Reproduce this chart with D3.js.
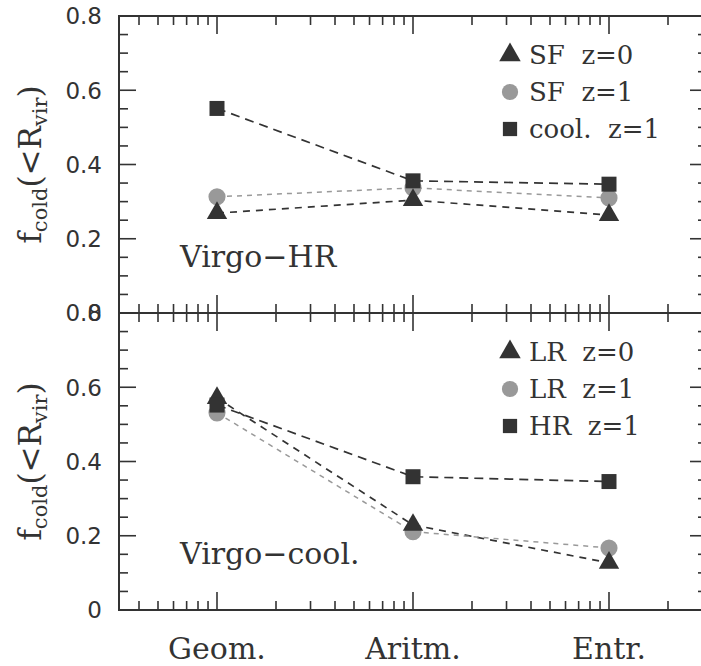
<!DOCTYPE html>
<html>
<head>
<meta charset="utf-8">
<script src="https://cdn.jsdelivr.net/npm/d3@7"></script>
<style>
  body { margin: 0; background: #fff; }
  svg { display: block; }
  text { white-space: pre; }
</style>
</head>
<body>
<div class="chartDiv"></div>
<script>
// categories sit on a log axis at 1, 10, 100
var categories = ["Geom.", "Aritm.", "Entr."];
var catPos     = [1, 10, 100];

// top panel: Virgo-HR
var hrLabels   = ["SF  z=0", "SF  z=1", "cool.  z=1"];
var hrSFz0     = [0.269, 0.304, 0.264];
var hrSFz1     = [0.313, 0.337, 0.310];
var hrCoolz1   = [0.551, 0.356, 0.347];

// bottom panel: Virgo-cool.
var coolLabels = ["LR  z=0", "LR  z=1", "HR  z=1"];
var coolLRz0   = [0.571, 0.229, 0.127];
var coolLRz1   = [0.531, 0.211, 0.167];
var coolHRz1   = [0.552, 0.359, 0.346];

var yTicks = [0, 0.2, 0.4, 0.6, 0.8];

(function(){
  var width  = 701,
      height = 666,
      left   = 119,
      right  = 707,
      ink    = "#333",
      grey   = "#999";

  var svg = d3.select(".chartDiv").append("svg")
      .attr("width", width).attr("height", height);

  var x = d3.scaleLog().domain([Math.pow(10, -0.5), Math.pow(10, 2.5)]).range([left, right]);

  var panels = [
    {top: 16,  bottom: 313, name: "Virgo\u2212HR",    labels: hrLabels,   series: [hrSFz0, hrSFz1, hrCoolz1]},
    {top: 313, bottom: 610, name: "Virgo\u2212cool.", labels: coolLabels, series: [coolLRz0, coolLRz1, coolHRz1]}
  ];

  // minor ticks 2..9 x 10^k inside the frame
  var xMajor = [], xMinor = [];
  [-1, 0, 1, 2].forEach(function(k){
    for (var m = 1; m <= 9; m++){
      var v = m * Math.pow(10, k);
      if (x(v) < left || x(v) > right) continue;
      (m === 1 ? xMajor : xMinor).push(v);
    }
  });
  var yMinor = d3.range(0, 0.801, 0.05);

  var markerKinds = [
    {sym: d3.symbolTriangle, size: 180, fill: ink,  dash: "7,6", stroke: ink,  sw: 1.7},
    {sym: d3.symbolCircle,   size: 230, fill: grey, dash: "5,5", stroke: grey, sw: 1.5},
    {sym: d3.symbolSquare,   size: 225, fill: ink,  dash: "9,6", stroke: ink,  sw: 1.7}
  ];

  panels.forEach(function(p, pi){
    var y = d3.scaleLinear().domain([0, 0.8]).range([p.bottom, p.top]);
    var g = svg.append("g");

    // frame
    g.append("rect").attr("x", left).attr("y", p.top)
      .attr("width", right - left).attr("height", p.bottom - p.top)
      .attr("fill", "none").attr("stroke", ink).attr("stroke-width", 2);

    // x ticks top (down) and bottom (up)
    function xt(list, len){
      list.forEach(function(v){
        g.append("line").attr("x1", x(v)).attr("x2", x(v))
          .attr("y1", p.top).attr("y2", p.top + len)
          .attr("stroke", ink).attr("stroke-width", 1.6);
        g.append("line").attr("x1", x(v)).attr("x2", x(v))
          .attr("y1", p.bottom).attr("y2", p.bottom - len)
          .attr("stroke", ink).attr("stroke-width", 1.6);
      });
    }
    xt(xMajor, 18);
    xt(xMinor, 9);

    // y ticks left and right
    yMinor.forEach(function(v, i){
      var len = (i % 4 === 0) ? 17 : 9;
      g.append("line").attr("x1", left).attr("x2", left + len)
        .attr("y1", y(v)).attr("y2", y(v)).attr("stroke", ink).attr("stroke-width", 1.6);
      g.append("line").attr("x1", right).attr("x2", right - len)
        .attr("y1", y(v)).attr("y2", y(v)).attr("stroke", ink).attr("stroke-width", 1.6);
    });

    // tick labels (the "0" of the top panel sits on the "0.8" of the lower one, as in the original)
    g.selectAll("text.ytick").data(yTicks).enter().append("text")
      .attr("class", "ytick")
      .attr("x", 102).attr("y", function(d){ return y(d); })
      .attr("dy", "0.36em")
      .attr("text-anchor", "end")
      .attr("font-family", "DejaVu Sans").attr("font-size", 23)
      .attr("fill", ink)
      .text(function(d){ return d === 0 ? "0" : d3.format(".1f")(d); });

    // axis label
    var midY = (p.top + p.bottom) / 2;
    var lab = g.append("text")
      .attr("transform", "translate(41," + midY + ") rotate(-90)")
      .attr("text-anchor", "middle")
      .attr("font-family", "DejaVu Serif").attr("font-size", 31)
      .attr("fill", ink);
    lab.append("tspan").text("f");
    lab.append("tspan").attr("dy", 6).attr("font-size", 21).text("cold");
    lab.append("tspan").attr("dy", -6).text("(<R");
    lab.append("tspan").attr("dy", 6).attr("font-size", 21).text("vir");
    lab.append("tspan").attr("dy", -6).text(")");

    // panel name
    g.append("text").attr("x", 180).attr("y", p.bottom - 46)
      .attr("font-family", "DejaVu Serif").attr("font-size", 30)
      .attr("fill", ink).text(p.name);

    // connecting lines
    var line = d3.line().x(function(d, i){ return x(catPos[i]); }).y(function(d){ return y(d); });
    p.series.forEach(function(s, si){
      var k = markerKinds[si];
      g.append("path").attr("d", line(s)).attr("fill", "none")
        .attr("stroke", k.stroke).attr("stroke-width", k.sw)
        .attr("stroke-dasharray", k.dash);
    });

    // markers: circles, then triangles, then squares
    [1, 0, 2].forEach(function(si){
      var k = markerKinds[si];
      g.selectAll("path.m" + si).data(p.series[si]).enter().append("path")
        .attr("class", "m" + si)
        .attr("d", d3.symbol().type(k.sym).size(k.size))
        .attr("transform", function(d, i){ return "translate(" + x(catPos[i]) + "," + y(d) + ")"; })
        .attr("fill", k.fill);
    });

    // legend
    p.labels.forEach(function(t, i){
      var k = markerKinds[i];
      var ly = p.top + 39 + i * 37;
      g.append("path").attr("d", d3.symbol().type(k.sym).size(i === 0 ? 200 : k.size * 0.9))
        .attr("transform", "translate(510," + ly + ")")
        .attr("fill", k.fill);
      g.append("text").attr("x", 529).attr("y", ly + 9)
        .attr("font-family", "DejaVu Serif").attr("font-size", 26)
        .attr("fill", ink).text(t);
    });
  });

  // category labels
  svg.selectAll("text.cat").data(categories).enter().append("text")
    .attr("class", "cat")
    .attr("x", function(d, i){ return x(catPos[i]); })
    .attr("y", 659)
    .attr("text-anchor", "middle")
    .attr("font-family", "DejaVu Serif").attr("font-size", 30)
    .attr("fill", ink)
    .text(function(d){ return d; });
})();
</script>
</body>
</html>
